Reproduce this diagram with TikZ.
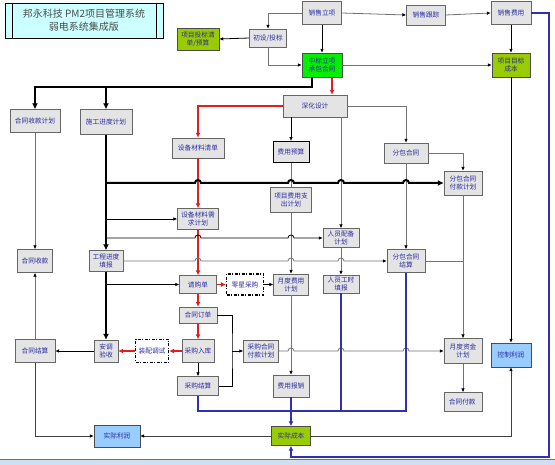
\documentclass[tikz,border=0pt]{standalone}
\usepackage{fontspec}
\setmainfont{Noto Sans CJK SC}
\usetikzlibrary{arrows.meta}

\definecolor{boxgray}{HTML}{E4E4E4}
\definecolor{boxtext}{HTML}{2B2BA0}
\definecolor{brightgreen}{HTML}{00F000}
\definecolor{olivegreen}{HTML}{99CC00}
\definecolor{lightblue}{HTML}{99CCFF}
\definecolor{titlecyan}{HTML}{CCFFFF}
\definecolor{flowred}{HTML}{E02020}
\definecolor{flowblue}{HTML}{3030B0}
\definecolor{stripblue}{HTML}{D0E0F0}

\tikzset{
  box/.style={draw=black!60, fill=boxgray, text=boxtext, align=center, inner sep=0pt,
    font=\fontsize{6.7}{8}\selectfont},
  greenbox/.style={box, fill=brightgreen, draw=black!70},
  olivebox/.style={box, fill=olivegreen, draw=black!70},
  bluebox/.style={box, fill=lightblue, draw=black!70},
  dashbox/.style={box, fill=white, draw=black, line width=1.1pt,
    dash pattern=on 3pt off 1.5pt on 1pt off 1.5pt},
  gline/.style={draw=black!55, line width=0.8pt},
  bline/.style={draw=black, line width=0.8pt},
  dline/.style={draw=black!75, line width=0.8pt},
  thk/.style={draw=black, line width=2pt},
  rline/.style={draw=flowred, line width=1.3pt},
  bluline/.style={draw=flowblue, line width=1.6pt},
  arr/.style={-{Latex[length=4pt,width=3.6pt,color=black]}},
  tarr/.style={-{Latex[length=6pt,width=6pt]}},
  rarr/.style={-{Latex[length=5pt,width=5pt]}},
  barr/.style={-{Latex[length=5pt,width=5pt]}}
}

\begin{document}
\begin{tikzpicture}[x=1pt,y=-1pt]
  \useasboundingbox (0,0) rectangle (555,465);
  \fill[white] (0,0) rectangle (555,465);
  \fill[stripblue] (0,459) rectangle (555,465);
  \draw[black!55] (0,459) -- (555,459);

  % title
  \node[draw=black, line width=0.8pt, fill=titlecyan, minimum width=158pt, minimum height=35pt,
    align=center, text=black!70, font=\fontsize{10}{13}\selectfont] (ttl) at (84,20.5)
    {邦永科技 PM2项目管理系统\\弱电系统集成版};
  \draw[line width=0.8pt] ([xshift=8pt]ttl.north west) -- ([xshift=8pt]ttl.south west);
  \draw[line width=0.8pt] ([xshift=-7pt]ttl.north east) -- ([xshift=-7pt]ttl.south east);

  % gray boxes
  \foreach \name/\x/\y/\w/\h/\txt in {
    xsly/322/13/39/23/销售立项,
    xsgz/426/15/39/20/销售跟踪,
    xsfy/511/13/40/23/销售费用,
    shsj/315/106/64/22/深化设计,
    htskjh/35/121/50/23/合同收款计划,
    sgjd/106/122/52/25/施工进度计划,
    sbqd/198/148/52/20/设备材料清单,
    fbht/406/153/44/20/分包合同,
    fbfk/463/183/38/24/分包合同\\付款计划,
    xmzc/291/200/41/25/项目费用支\\出计划,
    sbxq/198/219/41/21/设备材料需\\求计划,
    rypb/341/238/36/19/人员配备\\计划,
    htsk/35/261/35/23/合同收款,
    gcjd/106/261/34/21/工程进度\\填报,
    fbjs/406/261/38/23/分包合同\\结算,
    qgd/198/284.5/37/18/请购单,
    ydfy/291/284.5/35/21/月度费用\\计划,
    rygs/341/284/36/18/人员工时\\填报,
    htdd/198/315/38/16/合同订单,
    htjs/35/351/40/23/合同结算,
    atys/106/351/24/22/安调\\验收,
    cgrk/198/351/32/23/采购入库,
    cgfk/261/351/35/22/采购合同\\付款计划,
    ydzj/463/351/38/25/月度资金\\计划,
    cgjs/198/386/41/19/采购结算,
    fybx/291/386/36/22/费用报销,
    htfk/463/402/38/19/合同付款
  } {
    \node[box, minimum width=\w pt, minimum height=\h pt] (\name) at (\x,\y) {\txt};
  }
  \node[box, minimum width=37pt, minimum height=18pt] (csbt) at (268,38) {初设/投标};
  \node[box, draw=black, line width=0.9pt, minimum width=36pt, minimum height=21pt] (fyys) at (291,152) {费用预算};

  % coloured boxes
  \node[greenbox, minimum width=40pt, minimum height=24pt] (zbht) at (322,65) {中标立项\\承包合同};
  \node[olivebox, minimum width=42pt, minimum height=22pt] (xmtb) at (198,39) {项目投标清\\单/预算};
  \node[olivebox, minimum width=38pt, minimum height=24pt] (mbcb) at (511,65) {项目目标\\成本};
  \node[olivebox, minimum width=39pt, minimum height=19pt] (sjcb) at (291,436) {实际成本};
  \node[bluebox, minimum width=46pt, minimum height=22pt] (sjlr) at (117,436) {实际利润};
  \node[bluebox, minimum width=40pt, minimum height=24pt] (kzlr) at (511,355) {控制利润};
  \node[dashbox, minimum width=37pt, minimum height=21pt] (lxcg) at (245,284.5) {零星采购};
  \node[dashbox, minimum width=33pt, minimum height=23pt] (zpts) at (152,351) {装配调试};

  % sales
  \draw[gline, arr] (xsly.east) -- (xsgz.west);
  \draw[gline, arr] (xsgz.east) -- (xsfy.west);
  \draw[gline, arr] (xsly.west) -| (csbt.north);
  \draw[bline, arr] (csbt.west) -- (xmtb.east);
  \draw[gline, arr] (csbt.south) |- (zbht.west);
  \draw[bline, arr] (xsly.south) -- (zbht.north);
  \draw[bline, arr] (xsfy.south) -- (mbcb.north);
  \draw[gline, arr] (zbht.east) -- (mbcb.west);
  \draw[bline, arr] (mbcb.south) -- (kzlr.north);
  \coordinate (loopne) at (549,13);
  \coordinate (loopse) at (549,457);
  \draw[bluline, barr] (xsfy.east) -- (loopne) -- (loopse) -| (sjcb.south);

  % contract award
  \coordinate (spl) at (35,87);
  \draw[thk, tarr] ([xshift=-10pt]zbht.south) |- (spl) -- (htskjh.north);
  \draw[thk, tarr] (sgjd.north |- spl) -- (sgjd.north);
  \draw[rline, rarr] ([xshift=10pt]zbht.south) -- ([xshift=10pt]zbht.south |- shsj.north);

  % material chain
  \draw[rline, rarr] (shsj.west) -| (sbqd.north);
  \draw[rline, rarr] (sbqd.south) -- (sbxq.north);
  \draw[rline, rarr] (sbxq.south) -- (qgd.north);
  \draw[rline, rarr] (qgd.south) -- (htdd.north);
  \draw[rline, rarr] (htdd.south) -- (cgrk.north);
  \draw[rline, rarr] (cgrk.west) -- (zpts.east);
  \draw[rline, rarr] (zpts.west) -- (atys.east);
  \draw[rline, rarr] (qgd.east) -- (lxcg.west);
  \draw[bline, arr] (lxcg.east) -- (ydfy.west);

  % design branches
  \draw[bline, arr] (fyys.north |- shsj.south) -- (fyys.north);
  \draw[gline] (fyys.south) -- (xmzc.north);
  \draw[gline, arr] (xmzc.south) -- (ydfy.north);
  \draw[gline, arr] (ydfy.south) -- (fybx.north);
  \draw[gline, arr] (rypb.north |- shsj.south) -- (rypb.north);
  \draw[gline, arr] (rypb.south) -- (rygs.north);
  \draw[gline, arr] (shsj.east) -| (fbht.north);
  \draw[gline, arr] (fbht.east) -| (fbfk.north);
  \draw[gline, arr] (fbht.south) -- (fbjs.north);
  \draw[gline, arr] (fbfk.south) -- (ydzj.north);
  \draw[gline] (fbjs.east) -- (fbjs.east -| fbfk.south);
  \draw[gline, arr] (ydzj.south) -- (htfk.north);

  % schedule trunk
  \draw[thk, tarr] (sgjd.south) -- (gcjd.north);
  \draw[thk, tarr] (gcjd.south) -- (atys.north);
  \draw[thk, tarr] (sgjd.south |- fbfk.west) -- (195,183)
    arc[start angle=180, end angle=360, radius=3] -- (288,183)
    arc[start angle=180, end angle=360, radius=3] -- (338,183)
    arc[start angle=180, end angle=360, radius=3] -- (403,183)
    arc[start angle=180, end angle=360, radius=3] -- (fbfk.west);
  \draw[bline, arr] (sgjd.south |- sbxq.west) -- (sbxq.west);
  \draw[bline, arr] (sgjd.south |- rypb.west) -- (195,238)
    arc[start angle=180, end angle=360, radius=3] -- (288,238)
    arc[start angle=180, end angle=360, radius=3] -- (rypb.west);
  \draw[gline, arr] (gcjd.east) -- (195,261)
    arc[start angle=180, end angle=360, radius=3] -- (288,261)
    arc[start angle=180, end angle=360, radius=3] -- (338,261)
    arc[start angle=180, end angle=360, radius=3] -- (fbjs.west);
  \draw[bline, arr] (gcjd.south |- qgd.west) -- (qgd.west);

  % purchase
  \draw[bline, arr] (cgrk.south) -- (cgjs.north);
  \coordinate (odr) at (232,351);
  \draw[bline] (htdd.east) -| (odr) |- (cgjs.east);
  \draw[bline, arr] (odr) -- (cgfk.west);
  \draw[gline, arr] (cgfk.east) -- (288,351)
    arc[start angle=180, end angle=360, radius=3] -- (338,351)
    arc[start angle=180, end angle=360, radius=3] -- (403,351)
    arc[start angle=180, end angle=360, radius=3] -- (ydzj.west);

  % actual cost
  \coordinate (bjn) at (291,411);
  \draw[bluline] (cgjs.south) |- (bjn) -| (fbjs.south);
  \draw[bluline] (rygs.south) -- (rygs.south |- bjn);
  \draw[bluline, barr] (fybx.south) -- (sjcb.north);

  % contract settlement
  \draw[gline, arr] (htskjh.south) -- (htsk.north);
  \draw[gline, arr] (htjs.north) -- (htsk.south);
  \draw[bline, arr] (atys.west) -- (htjs.east);
  \draw[dline, arr] (htjs.south) |- (sjlr.west);
  \draw[dline, arr] (sjcb.west) -- (sjlr.east);
  \draw[dline, arr] (sjcb.east) -| (kzlr.south);
\end{tikzpicture}
\end{document}
